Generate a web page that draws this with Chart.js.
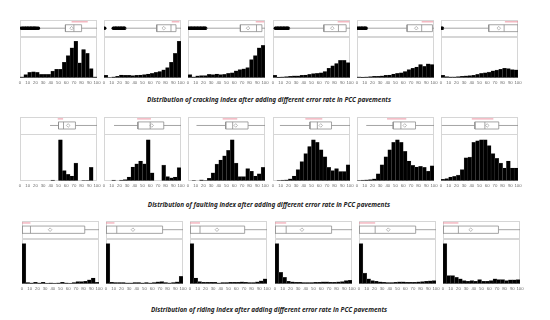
<!DOCTYPE html>
<html>
<head>
<meta charset="utf-8">
<script src="https://cdn.jsdelivr.net/npm/chart.js@4.4.1/dist/chart.umd.min.js"></script>
<style>
  html, body { margin: 0; padding: 0; background: #fff; }
  #page { position: relative; width: 550px; height: 320px; overflow: hidden; }
  canvas { position: absolute; }
  .cap { position: absolute; left: 0; width: 538px; text-align: center; line-height: 8px;
         font: italic bold 6.4px 'Noto Sans', sans-serif; color: #222; white-space: nowrap; }
</style>
</head>
<body>
<div id="page"></div>
<script>
// histogram bins are 5 wide, index 0..100
const binMids = [2.5, 7.5, 12.5, 17.5, 22.5, 27.5, 32.5, 37.5, 42.5, 47.5,
                 52.5, 57.5, 62.5, 67.5, 72.5, 77.5, 82.5, 87.5, 92.5, 97.5];
const xTicks = [0, 10, 20, 30, 40, 50, 60, 70, 80, 90, 100];

// one histogram per error rate (6 panels per index)
const crackingCounts = [
  [3, 10, 17, 19, 17, 11, 11, 11, 21, 27, 27, 49, 70, 94, 115, 47, 89, 77, 29, 3],
  [8, 1, 3, 5, 9, 8, 8, 7, 8, 9, 10, 12, 14, 17, 20, 25, 32, 49, 77, 115],
  [10, 3, 6, 7, 7, 11, 10, 12, 10, 11, 14, 16, 22, 26, 28, 32, 57, 70, 94, 102],
  [8, 2, 3, 4, 5, 6, 6, 8, 9, 11, 13, 14, 16, 20, 30, 38, 45, 55, 55, 48],
  [3, 2, 3, 4, 5, 5, 6, 8, 9, 12, 14, 16, 20, 26, 30, 34, 42, 36, 44, 42],
  [8, 4, 3, 3, 4, 5, 6, 7, 8, 11, 14, 16, 18, 22, 24, 27, 30, 29, 26, 25]
];
const faultingCounts = [
  [0, 0, 0, 0, 0, 0, 0, 0, 2, 0, 128, 32, 20, 15, 55, 0, 1, 1, 42, 0],
  [0, 0, 2, 0, 2, 4, 12, 43, 53, 62, 53, 128, 25, 0, 0, 49, 13, 9, 12, 41],
  [0, 1, 0, 3, 1, 8, 25, 52, 65, 78, 95, 128, 55, 13, 13, 38, 30, 15, 22, 42],
  [0, 1, 2, 3, 6, 15, 35, 60, 85, 107, 128, 120, 97, 75, 42, 32, 38, 29, 29, 50],
  [1, 2, 3, 4, 6, 22, 50, 75, 97, 120, 128, 120, 92, 62, 48, 43, 45, 42, 30, 47],
  [5, 7, 12, 14, 18, 35, 72, 74, 120, 125, 128, 128, 110, 85, 70, 55, 40, 62, 40, 40]
];
const ridingCounts = [
  [123, 4, 3, 5, 3, 5, 2, 3, 2, 3, 5, 3, 2, 4, 7, 7, 8, 12, 18, 5],
  [123, 5, 4, 4, 4, 3, 3, 4, 4, 3, 4, 3, 4, 6, 7, 4, 3, 4, 6, 23],
  [123, 18, 7, 5, 5, 5, 5, 3, 4, 4, 5, 5, 5, 6, 5, 4, 4, 6, 9, 15],
  [123, 35, 20, 8, 6, 5, 5, 4, 4, 4, 5, 5, 6, 6, 5, 5, 6, 7, 10, 11],
  [123, 33, 15, 10, 8, 6, 5, 4, 4, 5, 6, 6, 5, 5, 5, 6, 7, 8, 9, 10],
  [123, 25, 25, 20, 15, 10, 8, 10, 8, 13, 8, 8, 10, 15, 13, 13, 10, 12, 12, 13]
];

// box plots: [whisker lo, q1, median, q3, whisker hi, mean, shortest half lo, shortest half hi]
const crackingBox = [
  [26, 59, 70, 80, 100, 67, 67, 88],
  [28, 68.5, 87, 93.5, 100, 77.6, 88, 98],
  [24, 68, 89, 96, 100, 78, 88, 99],
  [21, 66, 85, 95, 100, 77, 84, 99],
  [13.5, 65, 84, 98, 100, 77, 84, 99],
  [3, 62, 82, 100, 100, 75, 83, 100]
];
const faultingBox = [
  [39, 50, 56.5, 72, 100, 62.6, 49, 56],
  [13, 44, 60, 77.6, 100, 62, 43, 61],
  [11, 49, 58, 78, 100, 62, 45, 64],
  [9, 48, 57.6, 76, 100, 62, 42, 64],
  [12, 47, 57, 76, 100, 62, 39, 64],
  [1, 44, 57, 75, 100, 60, 40, 68]
];
const ridingBox = [
  [0, 0, 11, 81.5, 100, 36.5, 0, 11],
  [0, 0, 14, 73.5, 100, 35, 0, 11],
  [0, 0, 13, 71, 100, 35, 0, 13],
  [0, 0, 14.5, 73.5, 100, 35, 0, 14.5],
  [0, 0, 21, 73.6, 100, 38, 0, 21],
  [0, 0, 20, 72, 100, 36, 0, 20]
];

// outliers (only the cracking index has them)
const crackingOutliers = [
  [1.5, 3, 4, 5, 6.5, 7, 8, 9.5, 10, 11, 12, 13.5, 14, 15, 16, 17.5, 18, 19, 20, 21, 22.5, 24],
  [1, 12, 13, 14.5, 15, 16, 17, 18.5, 19, 20, 21.5, 22, 23, 24, 25.5, 26, 27],
  [1, 2, 3.5, 4, 5, 6, 7.5, 8, 9, 10, 11.5, 12, 13, 14, 15.5, 16, 17, 18, 19.5, 20, 21, 22, 23],
  [3, 4, 5.5, 6, 7, 8, 9.5, 10, 11, 12, 13.5, 14, 15, 16, 17.5, 18, 19, 20],
  [0.5, 2, 3, 4, 5.5, 6, 7, 8, 9.5, 10, 11, 12],
  [1, 2]
];
const noOutliers = [[], [], [], [], [], []];

const captions = [
  'Distribution of cracking index after adding different error rate in PCC pavements',
  'Distribution of faulting index after adding different error rate in PCC pavements',
  'Distribution of riding index after adding different error rate in PCC pavements'
];

const panelLefts = [20, 104, 188, 273, 357, 441];
const page = document.getElementById('page');
const grey = '#8e8e8e';

const frame = {
  id: 'frame',
  beforeDatasetsDraw(chart) {
    const { ctx, chartArea: a, scales } = chart;
    ctx.save();
    ctx.strokeStyle = '#d6d6d6';
    ctx.lineWidth = 1;
    for (const id of ['yb', 'y']) {
      const s = scales[id];
      ctx.strokeRect(Math.round(a.left) + 0.5, Math.round(s.top) + 0.5,
                     Math.round(a.right - a.left) - 1, Math.round(s.bottom - s.top) - 1);
    }
    ctx.restore();
  }
};

function seg(pts, color) {
  return {
    type: 'line', yAxisID: 'yb', data: pts.map(([x, y]) => ({ x, y })),
    borderColor: color, borderWidth: 0.8, pointRadius: 0, fill: false, tension: 0
  };
}

function panel(left, top, height, counts, box, outl, boxW, histW, yMax) {
  const cv = document.createElement('canvas');
  cv.width = 89;
  cv.height = height;
  cv.style.left = (left - 6) + 'px';
  cv.style.top = top + 'px';
  page.appendChild(cv);
  const [lo, q1, med, q3, hi, mean, shLo, shHi] = box;

  new Chart(cv, {
    type: 'bar',
    data: {
      datasets: [
        {
          yAxisID: 'y', data: binMids.map((x, i) => ({ x, y: counts[i] })),
          backgroundColor: '#000', borderColor: '#5a5a5a', borderWidth: 0.4,
          barPercentage: 1, categoryPercentage: 1
        },
        seg([[lo, 0.5], [q1, 0.5]], grey),
        seg([[q3, 0.5], [hi, 0.5]], grey),
        seg([[q1, 0.3], [q3, 0.3], [q3, 0.7], [q1, 0.7], [q1, 0.3]], grey),
        seg([[med, 0.3], [med, 0.7]], grey),
        seg([[shLo, 0.87], [shHi, 0.87]], '#e8788a'),
        {
          type: 'line', yAxisID: 'yb', showLine: false, data: [{ x: mean, y: 0.5 }],
          pointStyle: 'rectRot', pointRadius: 1.8, pointBorderColor: grey,
          pointBackgroundColor: '#fff', pointBorderWidth: 0.6
        },
        {
          type: 'line', yAxisID: 'yb', showLine: false, data: outl.map(x => ({ x, y: 0.5 })),
          pointRadius: 1.7, pointBorderWidth: 0, pointBackgroundColor: '#000'
        }
      ]
    },
    options: {
      responsive: false,
      animation: false,
      events: [],
      layout: { padding: { left: 6, right: 6, top: 1, bottom: 0 } },
      plugins: { legend: { display: false }, tooltip: { enabled: false } },
      scales: {
        x: {
          type: 'linear', min: 0, max: 100, offset: false,
          grid: { display: false, drawTicks: false }, border: { display: false },
          afterBuildTicks: s => { s.ticks = xTicks.map(v => ({ value: v })); },
          ticks: {
            autoSkip: false, maxRotation: 0, padding: 2, color: '#6a6a6a',
            font: { size: 4.3, family: 'Liberation Sans' }
          }
        },
        yb: {
          type: 'linear', position: 'left', stack: 'p', stackWeight: boxW, weight: 1, min: 0, max: 1,
          ticks: { display: false }, grid: { display: false, drawTicks: false }, border: { display: false }
        },
        y: {
          type: 'linear', position: 'left', stack: 'p', stackWeight: histW, weight: 0, min: 0, max: yMax,
          ticks: { display: false }, grid: { display: false, drawTicks: false }, border: { display: false }
        }
      }
    },
    plugins: [frame]
  });
}

const rows = [
  { counts: crackingCounts, box: crackingBox, outl: crackingOutliers, top: 15, h: 72, bw: 18, hw: 43, yMax: 129, shift: 0, capY: 95 },
  { counts: faultingCounts, box: faultingBox, outl: noOutliers, top: 112, h: 78, bw: 18.5, hw: 48.5, yMax: 145, shift: 0, capY: 200 },
  { counts: ridingCounts, box: ridingBox, outl: noOutliers, top: 216, h: 77, bw: 19, hw: 47, yMax: 138, shift: 1.5, capY: 305 }
];

rows.forEach((r, ri) => {
  panelLefts.forEach((l, i) => {
    panel(l + r.shift, r.top, r.h, r.counts[i], r.box[i], r.outl[i], r.bw, r.hw, r.yMax);
  });
  const cap = document.createElement('div');
  cap.className = 'cap';
  cap.style.top = r.capY + 'px';
  cap.textContent = captions[ri];
  page.appendChild(cap);
});
</script>
</body>
</html>
